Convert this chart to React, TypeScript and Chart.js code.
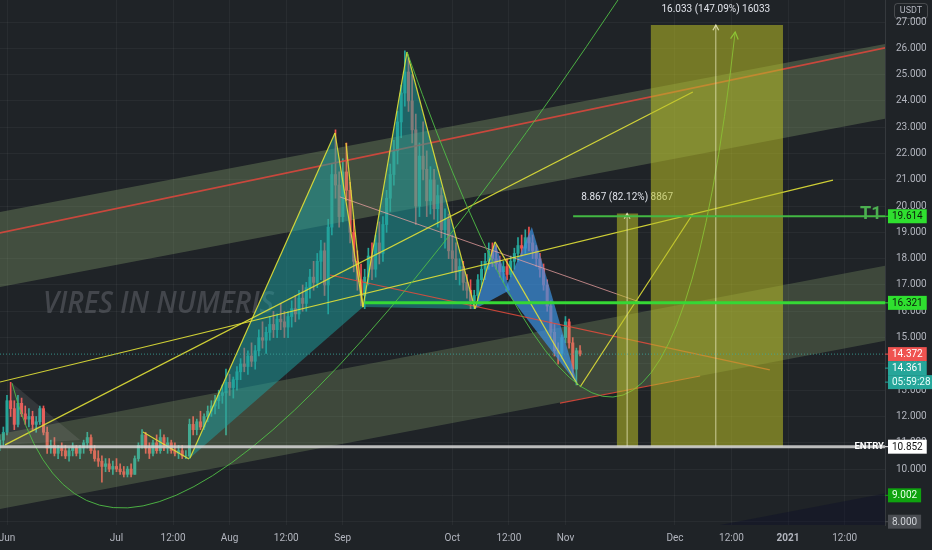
import React, { useEffect, useRef } from "react";
import { Chart, registerables } from "chart.js";

Chart.register(...registerables);

// ---------- DATA ----------
// daily candles [open, high, low, close], first candle = day -2 (30 May 2020), day 0 = 1 Jun 2020
const FIRST_DAY = -2;
const candles: number[][] = [
  [10.9, 11.3, 10.7, 11.1], [11.1, 11.6, 10.9, 11.4], [11.4, 12.8, 11.3, 12.6], [12.6, 13.3, 12.0, 12.3],
  [12.3, 12.6, 11.5, 11.7], [11.7, 12.8, 11.6, 12.5], [12.5, 12.7, 12.0, 12.1], [12.1, 12.4, 11.7, 11.9],
  [11.9, 12.3, 11.6, 12.0], [12.0, 12.2, 11.5, 11.7], [11.7, 12.0, 11.4, 11.8], [11.8, 12.4, 11.7, 12.3],
  [12.3, 12.4, 11.3, 11.4], [11.4, 11.6, 10.6, 10.8], [10.8, 11.1, 10.6, 10.9], [10.9, 11.2, 10.5, 10.6],
  [10.6, 10.9, 10.4, 10.8], [10.8, 11.0, 10.5, 10.7], [10.7, 10.9, 10.4, 10.5], [10.5, 10.8, 10.3, 10.7],
  [10.7, 11.0, 10.5, 10.8], [10.8, 10.9, 10.5, 10.6], [10.6, 10.9, 10.4, 10.8], [10.8, 11.1, 10.6, 11.0],
  [11.0, 11.4, 10.8, 11.2], [11.2, 11.3, 10.6, 10.7], [10.7, 10.9, 10.3, 10.4], [10.4, 10.7, 10.1, 10.3],
  [10.3, 10.5, 9.5, 10.1], [10.1, 10.4, 9.9, 10.2], [10.2, 10.4, 9.9, 10.0], [10.0, 10.3, 9.8, 10.1],
  [10.1, 10.4, 9.9, 10.0], [10.0, 10.2, 9.8, 9.9], [9.9, 10.1, 9.7, 9.8], [9.8, 10.1, 9.7, 10.0],
  [10.0, 10.2, 9.7, 9.8], [9.8, 10.5, 9.8, 10.4], [10.4, 11.0, 10.3, 10.9], [10.9, 11.5, 10.8, 11.3],
  [11.3, 11.4, 10.6, 10.8], [10.8, 11.0, 10.4, 10.6], [10.6, 11.1, 10.5, 11.0], [11.0, 11.3, 10.6, 10.7],
  [10.7, 11.5, 10.6, 11.2], [11.2, 11.3, 10.7, 10.8], [10.8, 11.2, 10.6, 11.0], [11.0, 11.1, 10.6, 10.7],
  [10.7, 11.0, 10.5, 10.6], [10.6, 10.9, 10.4, 10.7], [10.7, 10.9, 10.4, 10.5], [10.5, 10.7, 10.4, 10.5],
  [10.5, 11.9, 10.4, 11.7], [11.7, 12.0, 11.3, 11.5], [11.5, 11.9, 11.3, 11.8], [11.8, 12.2, 11.5, 11.6],
  [11.6, 12.1, 11.5, 12.0], [12.0, 12.4, 11.8, 12.2], [12.2, 12.6, 12.0, 12.4], [12.4, 12.8, 12.1, 12.6],
  [12.6, 13.0, 12.3, 12.8], [12.8, 13.2, 12.5, 12.9], [12.9, 13.8, 11.3, 13.3], [13.3, 13.6, 12.8, 13.1],
  [13.1, 13.5, 12.7, 13.4], [13.4, 13.9, 13.0, 13.7], [13.7, 14.2, 13.4, 14.0], [14.0, 14.6, 13.7, 13.9],
  [13.9, 14.5, 13.6, 14.3], [14.3, 14.8, 13.9, 14.1], [14.1, 14.7, 13.8, 14.5], [14.5, 15.3, 14.3, 15.0],
  [15.0, 15.6, 14.6, 14.9], [14.9, 15.4, 14.4, 15.2], [15.2, 15.8, 14.9, 15.5], [15.5, 16.0, 15.0, 15.3],
  [15.3, 15.9, 15.0, 15.7], [15.7, 16.3, 15.3, 15.6], [15.6, 16.0, 15.0, 15.4], [15.4, 16.0, 15.0, 15.8],
  [15.8, 16.4, 15.4, 16.1], [16.1, 16.6, 15.6, 15.9], [15.9, 16.8, 15.7, 16.5], [16.5, 17.0, 16.0, 16.3],
  [16.3, 17.1, 16.0, 16.9], [16.9, 17.6, 16.5, 17.3], [17.3, 17.9, 16.8, 17.1], [17.1, 18.2, 16.9, 17.9],
  [17.9, 18.7, 17.2, 18.3], [18.3, 18.6, 16.6, 17.0], [17.0, 19.5, 15.9, 19.2], [19.2, 21.6, 18.9, 21.2],
  [21.2, 22.9, 20.3, 20.8], [20.8, 21.3, 19.2, 19.6], [19.6, 21.8, 19.4, 21.3], [21.3, 22.4, 20.2, 20.6],
  [20.6, 20.9, 18.6, 19.0], [19.0, 19.5, 17.5, 17.9], [17.9, 18.3, 16.8, 17.2], [17.2, 17.8, 16.2, 16.6],
  [16.6, 17.6, 16.1, 17.3], [17.3, 18.4, 17.0, 18.1], [18.1, 18.6, 17.2, 17.6], [17.6, 18.9, 17.3, 18.6],
  [18.6, 19.4, 17.8, 18.2], [18.2, 19.6, 17.9, 19.3], [19.3, 20.6, 19.0, 20.3], [20.3, 21.6, 19.8, 21.2],
  [21.2, 22.5, 20.8, 22.1], [22.1, 23.6, 21.6, 23.2], [23.2, 24.6, 22.6, 24.3], [24.3, 25.9, 23.8, 25.1],
  [25.1, 25.6, 23.6, 24.0], [24.0, 25.0, 22.4, 22.9], [22.9, 23.5, 19.3, 20.0], [20.0, 22.4, 19.6, 21.9],
  [21.9, 23.2, 21.0, 21.4], [21.4, 22.1, 19.6, 20.2], [20.2, 21.5, 19.7, 21.0], [21.0, 21.4, 19.5, 19.9],
  [19.9, 20.8, 19.2, 20.4], [20.4, 20.7, 18.8, 19.1], [19.1, 19.9, 18.4, 19.5], [19.5, 19.7, 18.0, 18.3],
  [18.3, 18.9, 17.5, 18.0], [18.0, 18.6, 17.2, 17.5], [17.5, 18.0, 17.0, 17.7], [17.7, 17.9, 16.8, 17.1],
  [17.1, 17.4, 16.5, 16.8], [16.8, 17.2, 16.1, 16.4], [16.4, 16.8, 16.1, 16.6], [16.6, 17.4, 16.4, 17.2],
  [17.2, 17.9, 16.9, 17.6], [17.6, 18.2, 17.2, 17.9], [17.9, 18.6, 17.6, 18.3], [18.3, 18.6, 17.7, 18.0],
  [18.0, 18.5, 17.6, 17.8], [17.8, 18.1, 17.3, 17.5], [17.5, 17.9, 17.1, 17.7], [17.7, 18.0, 17.2, 17.4],
  [17.4, 18.1, 17.3, 17.9], [17.9, 18.4, 17.6, 18.2], [18.2, 18.8, 17.9, 18.5], [18.5, 18.9, 18.1, 18.4],
  [18.4, 19.1, 18.2, 18.8], [18.8, 19.2, 18.3, 18.6], [18.6, 18.9, 18.0, 18.3], [18.3, 18.5, 17.7, 18.0],
  [18.0, 18.2, 17.3, 17.6], [17.6, 17.8, 16.8, 17.0], [17.0, 17.2, 16.0, 16.2], [16.2, 16.4, 15.0, 15.2],
  [15.2, 15.5, 14.3, 14.5], [14.5, 14.8, 14.0, 14.4], [14.4, 15.1, 14.2, 15.0], [15.0, 15.8, 14.8, 15.6],
  [15.6, 15.7, 14.6, 14.8], [14.8, 15.0, 13.5, 13.8], [13.8, 14.6, 13.2, 14.5], [14.5, 14.7, 14.3, 14.372],
];

const xTickDays = [0, 30, 45.5, 61, 76.5, 92, 122, 137.5, 153, 183, 198.5, 214, 229.5];
const xTickLabels = ["Jun", "Jul", "12:00", "Aug", "12:00", "Sep", "Oct", "12:00", "Nov", "Dec", "12:00", "2021", "12:00"];
const yTickValues = [8, 9, 10, 11, 12, 13, 14, 15, 16, 17, 18, 19, 20, 21, 22, 23, 24, 25, 26, 27];

const X_MIN = -1.918;
const X_MAX = 240.55;
const Y_MIN = 7.874;
const Y_MAX = 27.837;

// parallel channel: [day, price] at both ends
const bandDays = [-2, 241];
const upperBandTop = [19.77, 26.18];
const upperBandBottom = [16.92, 23.33];
const upperBandRed = [18.98, 26.03];
const lowerBandTop = [11.33, 17.74];
const lowerBandBottom = [8.48, 14.89];
const thirdBandTop = [2.67, 9.08];
const thirdBandBottom = [-0.19, 6.22];

// gray triangle at the June high
const grayTriangle = [[-0.55, 10.92], [1.37, 13.27], [20.0, 11.11]];

// harmonic patterns (triangles of [day, price])
const tealTriangles = [
  [[50.14, 10.42], [89.86, 22.78], [97.53, 16.16]],
  [[97.53, 16.16], [109.59, 25.86], [128.2, 16.09]],
];
const blueTriangles = [
  [[128.2, 16.09], [133.7, 18.64], [137.8, 16.81]],
  [[136.4, 16.81], [143.8, 19.21], [156.4, 13.2]],
];

const yellowSegments = [
  [[-1.92, 13.31], [226.3, 20.99]],
  [[-0.55, 10.92], [187.9, 24.34]],
  [[157.0, 13.12], [187.9, 19.7]],
  [[37.26, 11.41], [49.86, 10.38]],
  [[50.14, 10.42], [89.86, 22.78]],
  [[89.86, 22.78], [97.53, 16.16]],
  [[92.88, 22.4], [97.53, 16.16]],
  [[97.53, 16.16], [109.59, 25.86]],
  [[109.59, 25.86], [128.2, 16.09]],
  [[128.2, 16.09], [133.7, 18.64]],
  [[133.7, 18.64], [156.4, 13.2]],
];
const redSegments = [
  [[88.5, 17.38], [209.0, 13.77]],
  [[151.5, 12.51], [189.9, 13.54]],
];
const pinkSegments = [[[91.2, 20.35], [173.4, 16.35]]];

// quadratic curves: start, control, end
const greenCurves = [
  [[1.37, 13.27], [28.2, -1.06], [167.4, 27.84]],
  [[109.59, 25.86], [177.5, -0.76], [199.5, 26.62]],
];

// measure boxes (price range tool)
const rectStartDays = [167.1, 176.4];
const rectEndDays = [172.9, 212.6];
const rectMidDays = [169.9, 194.2];
const rectLows = [10.852, 10.852];
const rectHighs = [19.719, 26.885];
const rectLabels = ["8.867 (82.12%) 8867", "16.033 (147.09%) 16033"];

// horizontal levels
const t1Level = 19.614;
const t1StartDay = 155.1;
const supportLevel = 16.321;
const supportStartDay = 98;
const entryLevel = 10.852;
const lastPrice = 14.372;

// right axis labels
const axisBoxValues = [19.614, 16.321, 14.372, 10.852, 9.002, 8.0];
const axisBoxBg = ["#2fe02f", "#2fe02f", "#ef5350", "#ffffff", "#0fa30f", "#4a4d52"];
const axisBoxFg = ["#0b1a0b", "#0b1a0b", "#ffffff", "#111111", "#e8ffe8", "#d0d3d8"];
const stackedBoxTexts = ["14.361", "05:59:28"];

// ---------- STYLE ----------
const BG = "#1f2327";
const UP = "#26a69a";
const DOWN = "#ef5350";
const AXIS_TEXT = "#b2b5be";
const FONT = "Roboto, 'Liberation Sans', sans-serif";

type Pt = number[];

function px(chart: any, p: Pt): [number, number] {
  return [chart.scales.x.getPixelForValue(p[0]), chart.scales.y.getPixelForValue(p[1])];
}

function fillPoly(ctx: CanvasRenderingContext2D, chart: any, pts: Pt[], color: string) {
  ctx.beginPath();
  pts.forEach((p, i) => {
    const [x, y] = px(chart, p);
    if (i === 0) ctx.moveTo(x, y);
    else ctx.lineTo(x, y);
  });
  ctx.closePath();
  ctx.fillStyle = color;
  ctx.fill();
}

function seg(ctx: CanvasRenderingContext2D, chart: any, a: Pt, b: Pt, color: string, w: number, dash: number[] = []) {
  const [x1, y1] = px(chart, a);
  const [x2, y2] = px(chart, b);
  ctx.beginPath();
  ctx.setLineDash(dash);
  ctx.moveTo(x1, y1);
  ctx.lineTo(x2, y2);
  ctx.strokeStyle = color;
  ctx.lineWidth = w;
  ctx.stroke();
  ctx.setLineDash([]);
}

function arrowHead(ctx: CanvasRenderingContext2D, fx: number, fy: number, tx: number, ty: number, color: string, size: number) {
  const ang = Math.atan2(ty - fy, tx - fx);
  ctx.beginPath();
  ctx.moveTo(tx - size * Math.cos(ang - 0.5), ty - size * Math.sin(ang - 0.5));
  ctx.lineTo(tx, ty);
  ctx.lineTo(tx - size * Math.cos(ang + 0.5), ty - size * Math.sin(ang + 0.5));
  ctx.strokeStyle = color;
  ctx.lineWidth = 1.2;
  ctx.stroke();
}

function band(top: number[], bottom: number[]): Pt[] {
  return [
    [bandDays[0], top[0]],
    [bandDays[1], top[1]],
    [bandDays[1], bottom[1]],
    [bandDays[0], bottom[0]],
  ];
}

const overlayPlugin = {
  id: "overlay",
  beforeDraw(chart: any) {
    const { ctx, width, height } = chart;
    ctx.save();
    ctx.fillStyle = BG;
    ctx.fillRect(0, 0, width, height);
    ctx.restore();
  },
  beforeDatasetsDraw(chart: any) {
    const { ctx } = chart;
    ctx.save();
    ctx.font = `italic 600 30px 'Open Sans', sans-serif`;
    ctx.fillStyle = "rgba(125,130,136,0.38)";
    ctx.textBaseline = "alphabetic";
    ctx.fillText("VIRES IN NUMERIS", 43, 313, 231);
    ctx.restore();
  },
  afterDatasetsDraw(chart: any) {
    const { ctx, chartArea: a } = chart;
    const X = chart.scales.x;
    const Y = chart.scales.y;
    ctx.save();
    ctx.beginPath();
    ctx.rect(a.left, a.top, a.right - a.left, a.bottom - a.top);
    ctx.clip();

    // channel bands
    fillPoly(ctx, chart, band(upperBandTop, upperBandBottom), "rgba(150,180,120,0.30)");
    fillPoly(ctx, chart, band(lowerBandTop, lowerBandBottom), "rgba(150,180,120,0.26)");
    fillPoly(ctx, chart, band(thirdBandTop, thirdBandBottom), "rgba(8,12,40,0.35)");
    seg(ctx, chart, [bandDays[0], upperBandRed[0]], [bandDays[1], upperBandRed[1]], "rgba(225,70,60,0.85)", 1.5);

    // patterns
    fillPoly(ctx, chart, grayTriangle, "rgba(180,180,180,0.14)");
    tealTriangles.forEach((t) => fillPoly(ctx, chart, t, "rgba(30,160,160,0.52)"));
    blueTriangles.forEach((t) => fillPoly(ctx, chart, t, "rgba(60,145,225,0.7)"));

    // lines
    redSegments.forEach((s) => seg(ctx, chart, s[0], s[1], "rgba(230,75,60,0.85)", 1.2));
    pinkSegments.forEach((s) => seg(ctx, chart, s[0], s[1], "rgba(235,160,160,0.75)", 1));
    yellowSegments.forEach((s) => seg(ctx, chart, s[0], s[1], "rgba(225,225,55,0.9)", 1.2));

    greenCurves.forEach((c, i) => {
      const [x0, y0] = px(chart, c[0]);
      const [x1, y1] = px(chart, c[1]);
      const [x2, y2] = px(chart, c[2]);
      ctx.beginPath();
      ctx.moveTo(x0, y0);
      ctx.quadraticCurveTo(x1, y1, x2, y2);
      ctx.strokeStyle = "rgba(80,190,70,0.9)";
      ctx.lineWidth = 1;
      ctx.stroke();
      if (i === 1) arrowHead(ctx, x1, y1, x2, y2, "rgba(90,205,70,1)", 8);
    });

    // measure rectangles
    rectStartDays.forEach((d0, i) => {
      fillPoly(
        ctx,
        chart,
        [
          [d0, rectHighs[i]],
          [rectEndDays[i], rectHighs[i]],
          [rectEndDays[i], rectLows[i]],
          [d0, rectLows[i]],
        ],
        "rgba(185,192,38,0.55)"
      );
      const mx = X.getPixelForValue(rectMidDays[i]);
      const top = Y.getPixelForValue(rectHighs[i]);
      const bot = Y.getPixelForValue(rectLows[i]);
      ctx.beginPath();
      ctx.moveTo(mx, bot);
      ctx.lineTo(mx, top);
      ctx.strokeStyle = "rgba(235,235,190,0.75)";
      ctx.lineWidth = 1;
      ctx.stroke();
      arrowHead(ctx, mx, bot, mx, top, "rgba(235,235,190,0.85)", 6);
      ctx.font = `10px ${FONT}`;
      ctx.fillStyle = "#e0e3ea";
      ctx.textAlign = "center";
      ctx.textBaseline = "middle";
      ctx.fillText(rectLabels[i], mx, top - 16);
    });

    // horizontal levels
    const right = a.right;
    const yT1 = Y.getPixelForValue(t1Level);
    ctx.beginPath();
    ctx.moveTo(X.getPixelForValue(t1StartDay), yT1);
    ctx.lineTo(right, yT1);
    ctx.strokeStyle = "#43b843";
    ctx.lineWidth = 2;
    ctx.stroke();

    const ySup = Y.getPixelForValue(supportLevel);
    ctx.beginPath();
    ctx.moveTo(X.getPixelForValue(supportStartDay), ySup);
    ctx.lineTo(right, ySup);
    ctx.strokeStyle = "#35d835";
    ctx.lineWidth = 3;
    ctx.stroke();

    const yEntry = Y.getPixelForValue(entryLevel);
    ctx.beginPath();
    ctx.moveTo(a.left, yEntry);
    ctx.lineTo(right, yEntry);
    ctx.strokeStyle = "rgba(215,215,215,0.85)";
    ctx.lineWidth = 3;
    ctx.stroke();

    const yLast = Y.getPixelForValue(lastPrice);
    ctx.beginPath();
    ctx.setLineDash([1, 2]);
    ctx.moveTo(a.left, yLast);
    ctx.lineTo(right, yLast);
    ctx.strokeStyle = "rgba(60,170,160,0.8)";
    ctx.lineWidth = 1;
    ctx.stroke();
    ctx.setLineDash([]);

    // level texts
    ctx.font = `bold 18px ${FONT}`;
    ctx.fillStyle = "#4caf50";
    ctx.textAlign = "left";
    ctx.textBaseline = "middle";
    ctx.fillText("T1", right - 25, yT1 - 2);
    ctx.font = `bold 9.5px ${FONT}`;
    ctx.fillStyle = "#ffffff";
    ctx.textAlign = "right";
    ctx.fillText("ENTRY", right - 1, yEntry);

    ctx.restore();
  },
  afterDraw(chart: any) {
    const { ctx, chartArea: a } = chart;
    const Y = chart.scales.y;
    ctx.save();
    ctx.font = `10px ${FONT}`;
    ctx.textBaseline = "middle";
    ctx.textAlign = "left";
    const h = 14;
    const drawBox = (text: string, yc: number, bg: string, fg: string) => {
      const w = ctx.measureText(text).width + 8;
      ctx.fillStyle = bg;
      ctx.fillRect(a.right + 3, yc - h / 2, w, h);
      ctx.fillRect(a.right, yc - 0.5, 4, 1);
      ctx.fillStyle = fg;
      ctx.fillText(text, a.right + 7, yc + 0.5);
    };
    axisBoxValues.forEach((v, i) => {
      drawBox(v.toFixed(3), Y.getPixelForValue(v), axisBoxBg[i], axisBoxFg[i]);
    });
    const yLast = Y.getPixelForValue(lastPrice);
    drawBox(stackedBoxTexts[0], yLast + h, UP, "#ffffff");
    drawBox(stackedBoxTexts[1], yLast + 2 * h, UP, "#e6fffb");

    // currency badge
    ctx.strokeStyle = "rgba(255,255,255,0.18)";
    ctx.lineWidth = 1;
    ctx.beginPath();
    ctx.roundRect(a.right + 9.5, 3.5, 33, 15, 3);
    ctx.stroke();
    ctx.fillStyle = AXIS_TEXT;
    ctx.font = `9px ${FONT}`;
    ctx.textAlign = "center";
    ctx.fillText("USDT", a.right + 26, 11);
    ctx.restore();
  },
};

export default function App() {
  const ref = useRef<HTMLCanvasElement>(null);
  useEffect(() => {
    document.body.style.margin = "0";
    const xs = candles.map((_, i) => FIRST_DAY + i);
    const colors = candles.map((c) => (c[3] >= c[0] ? UP : DOWN));
    const chart = new Chart(ref.current as HTMLCanvasElement, {
      type: "bar",
      data: {
        datasets: [
          {
            data: candles.map((c, i) => ({ x: xs[i], y: [c[2], c[1]] })) as any,
            backgroundColor: colors,
            barThickness: 1,
            grouped: false,
            borderWidth: 0,
          } as any,
          {
            data: candles.map((c, i) => ({ x: xs[i], y: [c[0], c[3]] })) as any,
            backgroundColor: colors,
            barThickness: 2.4,
            grouped: false,
            borderWidth: 0,
          } as any,
        ],
      },
      options: {
        animation: false,
        responsive: false,
        maintainAspectRatio: false,
        events: [],
        layout: { padding: 0 },
        plugins: { legend: { display: false }, tooltip: { enabled: false }, title: { display: false } },
        scales: {
          x: {
            type: "linear",
            min: X_MIN,
            max: X_MAX,
            bounds: "data",
            offset: false,
            grid: { color: "rgba(255,255,255,0.045)", drawTicks: false, offset: false },
            border: { display: false },
            ticks: {
              autoSkip: false,
              maxRotation: 0,
              padding: 7,
              color: AXIS_TEXT,
              font: (c: any) => ({ family: FONT, size: 10, weight: c.tick && c.tick.label === "2021" ? "bold" : "normal" }),
              callback: (_v: any, i: number) => xTickLabels[i],
            },
            afterBuildTicks: (s: any) => {
              s.ticks = xTickDays.map((v) => ({ value: v }));
            },
            afterFit: (s: any) => {
              s.height = 25;
              s.paddingLeft = 0;
              s.paddingRight = 0;
            },
          } as any,
          y: {
            type: "linear",
            position: "right",
            min: Y_MIN,
            max: Y_MAX,
            bounds: "data",
            grid: { color: "rgba(255,255,255,0.045)", drawTicks: false },
            border: { display: true, color: "rgba(255,255,255,0.1)" },
            ticks: {
              padding: 11,
              color: AXIS_TEXT,
              font: { family: FONT, size: 10 },
              callback: (v: any) => Number(v).toFixed(3),
            },
            afterBuildTicks: (s: any) => {
              s.ticks = yTickValues.map((v) => ({ value: v }));
            },
            afterFit: (s: any) => {
              s.width = 47;
              s.paddingTop = 0;
              s.paddingBottom = 0;
            },
          } as any,
        },
      },
      plugins: [overlayPlugin as any],
    });
    return () => chart.destroy();
  }, []);
  return (
    <div style={{ position: "fixed", left: 0, top: 0, width: 932, height: 550, background: BG }}>
      <canvas ref={ref} width={932} height={550} style={{ display: "block", width: 932, height: 550 }} />
    </div>
  );
}
